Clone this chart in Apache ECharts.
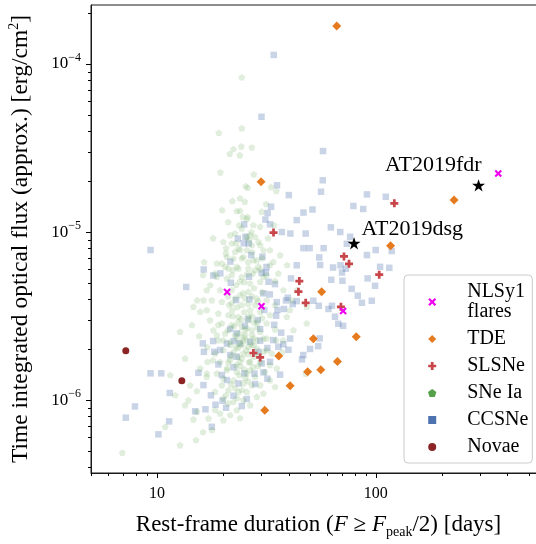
<!DOCTYPE html>
<html>
<head>
<meta charset="utf-8">
<script src="https://cdn.jsdelivr.net/npm/echarts@6/dist/echarts.min.js"></script>
<style>
html, body { margin: 0; padding: 0; background: #fff; }
#chart { width: 536px; height: 544px; }
</style>
</head>
<body>
<div id="chart"></div>
<script>
// values, stored as [log10(duration / days), log10(flux / erg cm^-2)]
const nlsy1 = [[1.321, -5.357], [1.478, -5.442], [1.851, -5.470], [2.560, -4.651]];

const tde = [
    [1.822, -3.774], [1.476, -4.701], [2.358, -4.810], [2.068, -5.082], [1.753, -5.355],
    [1.715, -5.635], [1.911, -5.623], [1.557, -5.738], [1.689, -5.832], [1.749, -5.820],
    [1.825, -5.770], [1.609, -5.915], [1.493, -6.060]
];

const slsne = [
    [2.085, -4.829], [1.533, -5.003], [1.855, -5.145], [1.878, -5.189], [2.016, -5.254],
    [1.651, -5.292], [1.647, -5.355], [1.680, -5.421], [1.841, -5.445], [1.441, -5.720],
    [1.472, -5.746]
];

const novae = [[0.858, -5.707], [1.114, -5.885]];

const starNames = ['AT2019fdr', 'AT2019dsg'];
const starPoints = [[2.470, -4.722], [1.901, -5.067]];

const ccsne = [
    [1.534,-3.946],[1.478,-4.314],[1.759,-4.518],[1.758,-4.692],[1.750,-4.760],[1.549,-4.722],[1.603,-4.780],[1.522,-4.849],[1.506,-4.887],[1.670,-4.884],
    [1.711,-4.866],[1.639,-4.929],[1.898,-4.845],[1.943,-4.863],[1.496,-4.926],[1.960,-4.776],[2.046,-4.790],[1.517,-4.954],[1.399,-4.954],[1.571,-5.000],
    [1.610,-5.009],[1.680,-5.009],[1.795,-4.972],[1.838,-5.000],[1.370,-5.039],[1.405,-5.028],[1.420,-5.068],[1.397,-5.067],[1.883,-5.028],[0.971,-5.107],
    [1.670,-5.096],[1.698,-5.096],[1.762,-5.096],[1.868,-5.070],[1.960,-5.137],[2.000,-5.107],[2.073,-5.113],[1.431,-5.137],[1.482,-5.147],[1.742,-5.151],
    [1.214,-5.223],[1.258,-5.259],[1.290,-5.246],[1.336,-5.176],[1.501,-5.208],[1.479,-5.244],[1.639,-5.198],[1.746,-5.196],[1.805,-5.211],[1.839,-5.198],
    [1.864,-5.218],[1.846,-5.241],[2.020,-5.207],[2.062,-5.213],[1.963,-5.276],[1.613,-5.276],[1.797,-5.284],[1.848,-5.290],[1.498,-5.242],[1.918,-5.379],
    [1.890,-5.338],[1.134,-5.327],[1.338,-5.302],[1.421,-5.266],[1.510,-5.296],[1.540,-5.310],[1.598,-5.391],[1.590,-5.407],[1.639,-5.411],[1.715,-5.409],
    [1.740,-5.439],[1.800,-5.439],[1.784,-5.458],[1.814,-5.504],[1.829,-5.546],[1.851,-5.558],[1.362,-5.405],[1.423,-5.401],[1.487,-5.365],[1.516,-5.371],
    [1.548,-5.417],[1.551,-5.464],[1.545,-5.498],[1.581,-5.458],[1.621,-5.429],[1.491,-5.464],[1.416,-5.518],[1.461,-5.524],[1.402,-5.558],[1.335,-5.577],
    [1.365,-5.603],[1.472,-5.577],[1.536,-5.552],[1.210,-5.663],[1.257,-5.649],[1.320,-5.664],[1.352,-5.649],[1.380,-5.663],[1.426,-5.653],[1.472,-5.647],
    [1.532,-5.643],[1.555,-5.683],[1.609,-5.634],[1.578,-5.668],[1.215,-5.713],[1.262,-5.713],[1.335,-5.732],[1.365,-5.742],[1.464,-5.713],[1.505,-5.690],
    [1.669,-5.732],[1.700,-5.696],[1.744,-5.633],[1.737,-5.679],[0.971,-5.841],[1.020,-5.841],[1.190,-5.838],[1.059,-5.958],[0.900,-6.038],[0.858,-6.105],
    [1.056,-6.127],[1.007,-6.204],[1.251,-6.159],[1.175,-6.067],[1.222,-6.055],[1.213,-5.911],[1.247,-5.972],[1.268,-6.028],[1.300,-6.004],[1.316,-6.046],
    [1.281,-5.788],[1.289,-5.702],[1.297,-5.851],[1.350,-5.805],[1.320,-5.881],[1.373,-5.901],[1.411,-5.994],[1.388,-6.036],[1.350,-5.974],[1.400,-5.841],
    [1.446,-5.843],[1.449,-5.905],[1.487,-5.835],[1.505,-5.873],[1.563,-5.849],[1.517,-5.772],[1.479,-5.782],[1.601,-5.701],[1.663,-5.758],[1.568,-5.599],
    [1.997,-5.320],[1.982,-5.409],[1.937,-5.421]
];

const sneIa = [
    [1.388,-4.079],[1.388,-4.382],[1.283,-4.409],[1.350,-4.506],[1.386,-4.490],[1.434,-4.496],[1.333,-4.534],[1.379,-4.542],[1.290,-4.645],[1.443,-4.656],
    [1.406,-4.726],[1.415,-4.736],[1.546,-4.756],[1.522,-4.732],[1.345,-4.815],[1.380,-4.799],[1.402,-4.819],[1.380,-4.873],[1.393,-4.909],[1.415,-4.909],
    [1.479,-4.879],[1.365,-4.875],[1.411,-4.922],[1.441,-4.958],[1.388,-4.978],[1.472,-4.968],[1.432,-5.000],[1.335,-5.018],[1.411,-5.028],[1.449,-5.028],
    [1.464,-5.058],[1.434,-5.077],[1.373,-5.097],[1.411,-5.107],[1.487,-5.107],[1.315,-5.127],[1.350,-5.156],[1.395,-5.147],[1.441,-5.167],[1.297,-5.186],
    [1.327,-5.216],[1.365,-5.206],[1.418,-5.216],[1.464,-5.206],[1.517,-5.196],[1.266,-5.246],[1.342,-5.256],[1.388,-5.266],[1.438,-5.246],[1.487,-5.266],
    [1.376,-4.958],[1.357,-5.008],[1.426,-5.018],[1.472,-5.077],[1.357,-5.117],[1.320,-5.147],[1.388,-5.156],[1.457,-5.167],[1.532,-5.177],[1.274,-5.186],
    [1.312,-5.206],[1.373,-5.216],[1.472,-5.222],[1.502,-5.256],[1.540,-5.290],[1.274,-5.266],[1.320,-5.276],[1.426,-5.305],[1.472,-5.296],[1.228,-5.345],
    [1.289,-5.345],[1.342,-5.345],[1.380,-5.375],[1.418,-5.355],[1.457,-5.395],[1.502,-5.405],[1.540,-5.434],[1.251,-5.405],[1.297,-5.415],[1.342,-5.424],
    [1.388,-5.434],[1.426,-5.464],[1.472,-5.474],[1.517,-5.494],[1.228,-5.464],[1.281,-5.484],[1.327,-5.494],[1.373,-5.504],[1.418,-5.524],[1.457,-5.534],
    [1.502,-5.543],[1.243,-5.524],[1.297,-5.543],[1.342,-5.553],[1.388,-5.563],[1.434,-5.583],[1.472,-5.593],[1.540,-5.579],[1.258,-5.583],[1.312,-5.603],
    [1.357,-5.613],[1.395,-5.623],[1.441,-5.633],[1.487,-5.633],[1.281,-5.643],[1.335,-5.653],[1.380,-5.662],[1.418,-5.682],[1.457,-5.692],[1.502,-5.702],
    [1.304,-5.702],[1.350,-5.712],[1.395,-5.722],[1.441,-5.742],[1.106,-5.593],[1.160,-5.553],[1.198,-5.474],[1.167,-5.444],[1.213,-5.405],[1.342,-5.067],
    [1.304,-5.058],[1.624,-5.583],[1.685,-5.543],[1.594,-5.504],[1.616,-5.405],[1.578,-5.345],[1.555,-5.246],[1.517,-5.107],[1.685,-5.444],[1.129,-5.752],
    [1.144,-6.000],[1.167,-6.115],[1.038,-6.159],[0.842,-6.313],[1.183,-5.946],[1.231,-5.772],[1.274,-5.613],[1.228,-5.861],[1.198,-5.811],[1.266,-5.950],
    [1.289,-6.079],[1.304,-6.119],[1.335,-6.089],[1.365,-6.059],[1.350,-6.010],[1.304,-5.990],[1.395,-6.000],[1.411,-5.950],[1.373,-5.950],[1.327,-5.940],
    [1.297,-5.911],[1.274,-5.841],[1.320,-5.821],[1.365,-5.831],[1.411,-5.841],[1.449,-5.861],[1.472,-5.911],[1.434,-5.911],[1.395,-5.901],[1.350,-5.881],
    [1.304,-5.871],[1.289,-5.772],[1.335,-5.762],[1.380,-5.772],[1.426,-5.772],[1.472,-5.772],[1.517,-5.791],[1.548,-5.811],[1.371,-5.690],[1.487,-5.712],
    [1.525,-5.722],[1.266,-5.722],[1.304,-5.643],[1.365,-5.633],[1.411,-5.643],[1.457,-5.643],[1.502,-5.633],[1.388,-5.672],[1.335,-5.672],[1.403,-5.613],
    [1.441,-5.672],[1.228,-5.841],[1.152,-5.911],[1.129,-6.030],[1.183,-6.069],[1.236,-6.109],[1.266,-6.059],[1.457,-5.980],[1.426,-6.030],[1.487,-5.960],
    [1.517,-5.881],[1.540,-5.921],[1.680,-5.843],[1.577,-5.643],[1.403,-5.583],[1.371,-5.536],[1.435,-5.500],[1.399,-5.476],[1.344,-5.464],[1.449,-5.434],
    [1.403,-5.393],[1.362,-5.315],[1.444,-5.333],[1.399,-5.297],[1.326,-5.381],[1.481,-5.357],[1.417,-5.178],[1.380,-5.107],[1.435,-5.119],[1.481,-5.155],
    [1.362,-5.065],[1.421,-5.047],[1.316,-5.095],[1.244,-5.315],[1.211,-5.256],[1.184,-5.405],[1.193,-5.619],[1.230,-5.684],[1.256,-5.762],[1.545,-5.643],
    [1.572,-5.714],[1.608,-5.464],[1.640,-5.345],[1.595,-5.196],[1.563,-5.137],[1.508,-5.036],[1.536,-4.958],[1.499,-4.833],[1.326,-4.940],[1.298,-4.869],
    [1.257,-5.036],[1.216,-5.178],[1.380,-5.797],[1.426,-5.821],[1.403,-5.869],[1.357,-5.928],[1.325,-6.018],[1.380,-6.107],[1.252,-6.178],[1.179,-6.238],
    [1.106,-6.268],[1.211,-6.190],[1.061,-5.851],[1.084,-5.970],[1.371,-5.744],[1.417,-5.726],[1.462,-5.797],[1.494,-5.833],[1.326,-5.774],[1.280,-5.553],
    [1.326,-5.583],[1.353,-5.559],[1.376,-5.601],[1.412,-5.571],[1.435,-5.613],[1.458,-5.565],[1.394,-5.643],[1.362,-5.684],[1.408,-5.702],[1.431,-5.667],
    [1.462,-5.732],[1.339,-5.738],[1.389,-5.750],[1.421,-5.774],[1.362,-5.791],[1.321,-5.809],[1.399,-5.815],[1.440,-5.803],[1.376,-5.851],[1.417,-5.887],
    [1.339,-5.905],[1.389,-5.940],[1.316,-5.970],[1.367,-5.988],[1.421,-5.500],[1.385,-5.518],[1.348,-5.500],[1.444,-5.536],[1.481,-5.512],[1.367,-5.446],
    [1.417,-5.428],[1.462,-5.411],[1.330,-5.434],[1.394,-5.363],[1.435,-5.381],[1.358,-5.393],[1.380,-5.292],[1.412,-5.250],[1.348,-5.226],[1.449,-5.226]
];

// axis ticks
const xMajorTicks = [10, 100];
const xMinorTicks = [5, 6, 7, 8, 9, 20, 30, 40, 50, 60, 70, 80, 90, 200, 300, 400, 500];
const yMajorTicks = [1e-6, 1e-5, 1e-4];
const yMinorTicks = [4e-7, 5e-7, 6e-7, 7e-7, 8e-7, 9e-7, 2e-6, 3e-6, 4e-6, 5e-6, 6e-6, 7e-6, 8e-6, 9e-6,
    2e-5, 3e-5, 4e-5, 5e-5, 6e-5, 7e-5, 8e-5, 9e-5, 2e-4];

const FONT = 'Liberation Serif';

const SYM = {
    x: 'path://M0,2L2,0L5,3L8,0L10,2L7,5L10,8L8,10L5,7L2,10L0,8L3,5Z',
    plus: 'path://M3.3,0H6.7V3.3H10V6.7H6.7V10H3.3V6.7H0V3.3H3.3Z',
    pentagon: 'path://M5,0L9.755,3.455L7.939,9.045L2.061,9.045L0.245,3.455Z',
    star: 'path://M5,0L6.123,3.455L9.755,3.455L6.817,5.59L7.939,9.045L5,6.91L2.061,9.045L3.183,5.59L0.245,3.455L3.877,3.455Z',
    square: 'path://M0,0H10V10H0Z',
    diamond: 'path://M5,0L10,5L5,10L0,5Z',
    circle: 'path://M5,0A5,5,0,1,1,5,10A5,5,0,1,1,5,0Z'
};

const toLin = pts => pts.map(p => [Math.pow(10, p[0]), Math.pow(10, p[1])]);

const chart = echarts.init(document.getElementById('chart'));

const scatter = (name, pts, symbol, size, color, z) => ({
    name: name,
    type: 'scatter',
    data: toLin(pts),
    symbol: symbol,
    symbolSize: size,
    symbolKeepAspect: true,
    itemStyle: { color: color, opacity: 1 },
    z: z,
    silent: true
});

// tick marks drawn through the axis scales
const xTickSeries = {
    type: 'custom',
    silent: true,
    z: 20,
    data: xMajorTicks.map(v => [v, 1e-5, 5]).concat(xMinorTicks.map(v => [v, 1e-5, 3])),
    renderItem: (params, api) => {
        const cs = params.coordSys;
        const x = Math.round(api.coord([api.value(0), 1e-5])[0]) + 0.5;
        const y0 = cs.y + cs.height;
        return {
            type: 'line',
            shape: { x1: x, y1: y0, x2: x, y2: y0 + api.value(2) },
            style: { stroke: '#000', lineWidth: 1 }
        };
    }
};

const yTickSeries = {
    type: 'custom',
    silent: true,
    z: 20,
    data: yMajorTicks.map(v => [10, v, 5]).concat(yMinorTicks.map(v => [10, v, 3])),
    renderItem: (params, api) => {
        const cs = params.coordSys;
        const y = Math.round(api.coord([10, api.value(1)])[1]) + 0.5;
        const x0 = cs.x;
        return {
            type: 'line',
            shape: { x1: x0 - api.value(2), y1: y, x2: x0, y2: y },
            style: { stroke: '#000', lineWidth: 1 }
        };
    }
};

const powLabel = (v, withExp) => {
    const e = Math.log10(v);
    const r = Math.round(e);
    if (Math.abs(e - r) > 1e-6) return '';
    if (!withExp) return String(Math.round(v));
    return '{b|10}{s|' + (r < 0 ? '\u2212' : '') + Math.abs(r) + '}';
};

const option = {
    animation: false,
    textStyle: { fontFamily: FONT },
    grid: {
        left: 91, top: 5, right: -10, bottom: 71,
        outerBoundsMode: 'none',
        containLabel: false,
        show: true, borderColor: '#1a1a1a', borderWidth: 1
    },
    xAxis: {
        type: 'log',
        logBase: 10,
        min: 5,
        max: 600,
        axisLine: { show: true, lineStyle: { color: '#1a1a1a', width: 1 } },
        axisTick: { show: false },
        splitLine: { show: false },
        axisLabel: {
            margin: 13,
            fontFamily: FONT,
            fontSize: 16,
            color: '#000',
            formatter: v => powLabel(v, false)
        },
        name: 'Rest-frame duration ({i|F} \u2265 {i|F}{sub|peak}/2) [days]',
        nameLocation: 'middle',
        nameGap: 38,
        nameTextStyle: {
            fontFamily: FONT,
            fontSize: 23,
            color: '#000',
            lineHeight: 28,
            rich: {
                i: { fontFamily: FONT, fontSize: 23, fontStyle: 'italic', color: '#000', lineHeight: 28 },
                sub: { fontFamily: FONT, fontSize: 14, color: '#000', verticalAlign: 'bottom', lineHeight: 17 }
            }
        }
    },
    yAxis: {
        type: 'log',
        logBase: 10,
        min: 3.68e-7,
        max: 2.245e-4,
        axisLine: { show: true, lineStyle: { color: '#1a1a1a', width: 1 } },
        axisTick: { show: false },
        splitLine: { show: false },
        axisLabel: {
            margin: 10,
            color: '#000',
            formatter: v => powLabel(v, true),
            rich: {
                b: { fontFamily: FONT, fontSize: 17, color: '#000', lineHeight: 24 },
                s: { fontFamily: FONT, fontSize: 12, color: '#000', verticalAlign: 'top', lineHeight: 12 }
            }
        },
        name: 'Time integrated optical flux (approx.) [erg/cm{sup|2}]',
        nameLocation: 'middle',
        nameRotate: 90,
        nameGap: 56,
        nameTextStyle: {
            fontFamily: FONT,
            fontSize: 23.5,
            color: '#000',
            lineHeight: 28,
            rich: {
                sup: { fontFamily: FONT, fontSize: 14, color: '#000', verticalAlign: 'top', lineHeight: 15 }
            }
        }
    },
    legend: {
        orient: 'vertical',
        left: 404,
        top: 275,
        padding: [7, 4, 6, 24],
        itemWidth: 50,
        itemHeight: 8,
        itemGap: 7,
        symbolKeepAspect: true,
        selectedMode: false,
        backgroundColor: 'rgba(255,255,255,0.85)',
        borderColor: '#cccccc',
        borderWidth: 1,
        borderRadius: 4,
        textStyle: { fontFamily: FONT, fontSize: 20, lineHeight: 20, color: '#000', padding: [0, 0, 0, 5] },
        data: [
            { name: 'NLSy1\nflares', icon: SYM.x, itemStyle: { color: '#f000f0', opacity: 1 } },
            { name: 'TDE', icon: SYM.diamond, itemStyle: { color: '#e67a1e', opacity: 1 } },
            { name: 'SLSNe', icon: SYM.plus, itemStyle: { color: '#c8454a', opacity: 1 } },
            { name: 'SNe Ia', icon: SYM.pentagon, itemStyle: { color: '#56a04a', opacity: 1 } },
            { name: 'CCSNe', icon: SYM.square, itemStyle: { color: '#4c72b0', opacity: 1 } },
            { name: 'Novae', icon: SYM.circle, itemStyle: { color: '#8b2525', opacity: 1 } }
        ]
    },
    series: [
        scatter('CCSNe', ccsne, SYM.square, 6.5, 'rgba(76,114,176,0.3)', 2),
        scatter('SNe Ia', sneIa, SYM.pentagon, 7, 'rgba(86,160,74,0.18)', 3),
        scatter('Novae', novae, SYM.circle, 7, '#8b2525', 4),
        scatter('SLSNe', slsne, SYM.plus, 8, '#c8454a', 5),
        scatter('TDE', tde, SYM.diamond, 9, '#e67a1e', 6),
        scatter('NLSy1\nflares', nlsy1, SYM.x, 7.5, '#f000f0', 7),
        {
            name: 'stars',
            type: 'scatter',
            symbol: SYM.star,
            symbolSize: 13,
            symbolKeepAspect: true,
            itemStyle: { color: '#000', opacity: 1 },
            z: 8,
            silent: true,
            data: toLin(starPoints).map((p, i) => ({
                value: p,
                name: starNames[i],
                label: {
                    show: true,
                    formatter: '{b}',
                    position: i === 0 ? [-87, -14] : [14, -8],
                    align: 'left',
                    verticalAlign: 'middle',
                    fontFamily: FONT,
                    fontSize: 22,
                    color: '#000'
                }
            }))
        },
        xTickSeries,
        yTickSeries
    ]
};

chart.setOption(option);
</script>
</body>
</html>
